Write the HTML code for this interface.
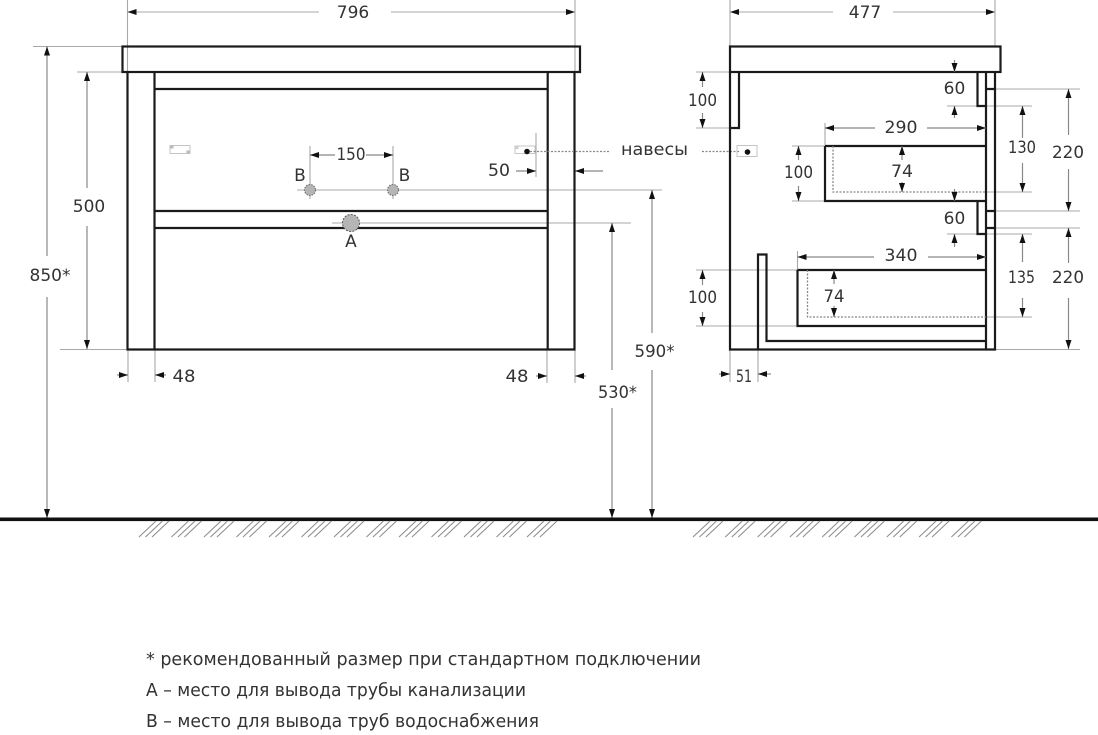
<!DOCTYPE html>
<html><head><meta charset="utf-8"><style>
html,body{margin:0;padding:0;background:#fff}
svg{display:block}
text{font-family:"DejaVu Sans","Liberation Sans",sans-serif;font-size:17px;fill:#333;text-anchor:middle}
.l{font-size:18px;text-anchor:start}
.o{fill:none;stroke:#1a1a1a;stroke-width:2.2}
.d{fill:none;stroke:#a8a8a8;stroke-width:1.1}
.k{fill:none;stroke:#888;stroke-width:1.2}
.p{fill:none;stroke:#888;stroke-width:1.3;stroke-dasharray:2 1.5}
.h{fill:none;stroke:#8a8a8a;stroke-width:1}
</style></head><body>
<svg width="1098" height="735" viewBox="0 0 1098 735" xmlns="http://www.w3.org/2000/svg">
<defs>
<marker id="a" markerUnits="userSpaceOnUse" markerWidth="9" markerHeight="7" refX="9" refY="3.5" orient="auto-start-reverse"><path d="M0 .5L9 3.5L0 6.5z" fill="#111"/></marker>
<g id="h"><path class="h" d="M0 537L17 521M6.5 537L23.5 521M13 537L30 521"/></g>
</defs>

<!-- extension lines, front -->
<path class="d" d="M127.5 0V72M575 0V72M33 46.5H122M77 72H122M60 349.5H127M128 350V382M155 350V382M547 350V383M575 350V383"/>
<path class="d" d="M310 146V199M393 146V199M297 190H662M332 223H631M536 133V177"/>
<!-- dimensions, front -->
<path class="d" d="M319 12H127.5" marker-end="url(#a)"/>
<path class="d" d="M391 12H575" marker-end="url(#a)"/>
<path class="k" d="M47 256V46.5" marker-end="url(#a)"/>
<path class="k" d="M47 297V518" marker-end="url(#a)"/>
<path class="k" d="M87 188V72" marker-end="url(#a)"/>
<path class="k" d="M87 226V349" marker-end="url(#a)"/>
<path class="k" d="M335 155H310" marker-end="url(#a)"/>
<path class="k" d="M366 155H393" marker-end="url(#a)"/>
<path class="k" d="M516 171H536" marker-end="url(#a)"/>
<path class="k" d="M603 171H575" marker-end="url(#a)"/>
<path class="k" d="M652 333V190" marker-end="url(#a)"/>
<path class="k" d="M652 370V518" marker-end="url(#a)"/>
<path class="k" d="M612 370V223" marker-end="url(#a)"/>
<path class="k" d="M612 408V518" marker-end="url(#a)"/>
<path class="k" d="M117 375H128" marker-end="url(#a)"/>
<path class="k" d="M166 375H155" marker-end="url(#a)"/>
<path class="k" d="M536 376H547" marker-end="url(#a)"/>
<path class="k" d="M586 376H575" marker-end="url(#a)"/>

<!-- front view -->
<rect class="o" x="122.5" y="46.5" width="457.5" height="25.5"/>
<path class="o" d="M127.5 72V349.5H574.5V72M154.5 72V349.5M547.7 72V349.5M154.5 89H547.7M154.5 211H547.7M154.5 228H547.7"/>
<!-- holes -->
<circle cx="310" cy="190" r="5.5" fill="#b5b5b5" stroke="#666" stroke-dasharray="1.5 1.2"/>
<circle cx="393" cy="190" r="5.5" fill="#b5b5b5" stroke="#666" stroke-dasharray="1.5 1.2"/>
<circle cx="351" cy="223" r="8.5" fill="#b5b5b5" stroke="#555" stroke-dasharray="2 1.3"/>
<!-- hinges -->
<rect x="170" y="145.5" width="20" height="8" fill="none" stroke="#c4c4c4"/>
<rect x="170" y="145.5" width="3.5" height="3" fill="#bbb"/><rect x="186.5" y="150.5" width="3.5" height="3" fill="#bbb"/>
<rect x="515" y="146" width="20" height="7.5" fill="none" stroke="#c8c8c8"/>
<rect x="515" y="146" width="3.5" height="3" fill="#ccc"/>
<circle cx="527" cy="151.5" r="2.8" fill="#111"/>
<path class="p" d="M530 151.5H609M702 151.5H740"/>
<rect x="737" y="145.5" width="20" height="11" fill="none" stroke="#c4c4c4"/>
<circle cx="747.5" cy="152" r="2.8" fill="#111"/>

<!-- side extension lines -->
<path class="d" d="M730 0V46M995 0V46M696 72H730M696 128H730M995 89H1080M995 211H1080M995 228H1080M995 349.5H1080M947 106H1032M947 234H1032M792 146H825M792 201H825M696 270H797.5M696 326H797.5M825 123V145M797.5 251V270M986 192H1032M986 317H1032M730 350V382M758 350V382"/>
<!-- side view -->
<rect class="o" x="730" y="46.5" width="270.5" height="25.5"/>
<path class="o" d="M730 72V349.5H995V72M730 128H739V72M986 72V349.5M986 89H995M986 211H995M986 228H995"/>
<path class="o" d="M977.5 72V106H986M977.5 201V234H986"/>
<path class="o" d="M825 146H986M825 146V201H986M797.5 270H986M797.5 270V326H986"/>
<path class="o" d="M758 349.5V254.5H766.5V341H986"/>
<path class="p" d="M833 146V192H986M807.5 270V317H986"/>
<!-- side dims -->
<path class="d" d="M833 12H730" marker-end="url(#a)"/>
<path class="d" d="M893 12H995" marker-end="url(#a)"/>
<path class="k" d="M954.5 60V72" marker-end="url(#a)"/>
<path class="k" d="M954.5 118V106" marker-end="url(#a)"/>
<path class="k" d="M954.5 189V201" marker-end="url(#a)"/>
<path class="k" d="M954.5 247V234" marker-end="url(#a)"/>
<path class="k" d="M702.5 87V72" marker-end="url(#a)"/>
<path class="k" d="M702.5 113V128" marker-end="url(#a)"/>
<path class="k" d="M875 128H825" marker-end="url(#a)"/>
<path class="k" d="M927 128H986" marker-end="url(#a)"/>
<path class="k" d="M1022.5 138V106" marker-end="url(#a)"/>
<path class="k" d="M1022.5 163V192" marker-end="url(#a)"/>
<path class="k" d="M1068.5 135V89" marker-end="url(#a)"/>
<path class="k" d="M1068.5 169V211" marker-end="url(#a)"/>
<path class="k" d="M1068.5 263V228" marker-end="url(#a)"/>
<path class="k" d="M1068.5 298V349" marker-end="url(#a)"/>
<path class="k" d="M798.5 160V146" marker-end="url(#a)"/>
<path class="k" d="M798.5 186V201" marker-end="url(#a)"/>
<path class="k" d="M902 160V146" marker-end="url(#a)"/>
<path class="k" d="M902 182V192" marker-end="url(#a)"/>
<path class="k" d="M874 257H797.5" marker-end="url(#a)"/>
<path class="k" d="M928 257H986" marker-end="url(#a)"/>
<path class="k" d="M1022.5 262V234" marker-end="url(#a)"/>
<path class="k" d="M1022.5 298V317" marker-end="url(#a)"/>
<path class="k" d="M702.5 285V270" marker-end="url(#a)"/>
<path class="k" d="M702.5 312V326" marker-end="url(#a)"/>
<path class="k" d="M834 284V270" marker-end="url(#a)"/>
<path class="k" d="M834 306V317" marker-end="url(#a)"/>
<path class="k" d="M719 374H730" marker-end="url(#a)"/>
<path class="k" d="M771 374H758" marker-end="url(#a)"/>

<!-- ground -->
<rect x="0" y="517.5" width="1098" height="3.6" fill="#111"/>
<use href="#h" x="139"/><use href="#h" x="171.5"/><use href="#h" x="204"/><use href="#h" x="236.5"/><use href="#h" x="269"/><use href="#h" x="301.5"/><use href="#h" x="334"/><use href="#h" x="366.5"/><use href="#h" x="399"/><use href="#h" x="431.5"/><use href="#h" x="464"/><use href="#h" x="496.5"/><use href="#h" x="527"/>
<use href="#h" x="693"/><use href="#h" x="725.3"/><use href="#h" x="757.6"/><use href="#h" x="789.9"/><use href="#h" x="822.2"/><use href="#h" x="854.5"/><use href="#h" x="886.8"/><use href="#h" x="919.1"/><use href="#h" x="951.4"/>

<!-- labels -->
<text x="353" y="18">796</text>
<text x="865" y="18">477</text>
<text x="50" y="281" textLength="41" lengthAdjust="spacingAndGlyphs">850*</text>
<text x="89" y="212">500</text>
<text x="351" y="160" textLength="29" lengthAdjust="spacingAndGlyphs">150</text>
<text x="300" y="181">B</text>
<text x="404.5" y="181">B</text>
<text x="351" y="247">A</text>
<text x="499" y="176" textLength="22" lengthAdjust="spacingAndGlyphs">50</text>
<text x="654.5" y="357" textLength="40" lengthAdjust="spacingAndGlyphs">590*</text>
<text x="617.5" y="398" textLength="39" lengthAdjust="spacingAndGlyphs">530*</text>
<text x="184" y="382" textLength="23" lengthAdjust="spacingAndGlyphs">48</text>
<text x="517" y="382" textLength="23" lengthAdjust="spacingAndGlyphs">48</text>
<text x="654.5" y="155" textLength="67" lengthAdjust="spacingAndGlyphs">навесы</text>
<text x="702.5" y="106" textLength="29" lengthAdjust="spacingAndGlyphs">100</text>
<text x="954.5" y="94">60</text>
<text x="901" y="133" textLength="33" lengthAdjust="spacingAndGlyphs">290</text>
<text x="1022" y="153" textLength="28" lengthAdjust="spacingAndGlyphs">130</text>
<text x="1068" y="158" textLength="32" lengthAdjust="spacingAndGlyphs">220</text>
<text x="798.5" y="178" textLength="29" lengthAdjust="spacingAndGlyphs">100</text>
<text x="902" y="177" textLength="22" lengthAdjust="spacingAndGlyphs">74</text>
<text x="954.5" y="224">60</text>
<text x="901" y="261" textLength="33" lengthAdjust="spacingAndGlyphs">340</text>
<text x="1021.5" y="283" textLength="27" lengthAdjust="spacingAndGlyphs">135</text>
<text x="1068" y="283" textLength="32" lengthAdjust="spacingAndGlyphs">220</text>
<text x="702.5" y="303" textLength="29" lengthAdjust="spacingAndGlyphs">100</text>
<text x="834" y="302" textLength="21" lengthAdjust="spacingAndGlyphs">74</text>
<text x="744" y="382" textLength="16" lengthAdjust="spacingAndGlyphs">51</text>

<text class="l" x="146" y="665" textLength="555" lengthAdjust="spacingAndGlyphs">* рекомендованный размер при стандартном подключении</text>
<text class="l" x="146" y="696" textLength="380" lengthAdjust="spacingAndGlyphs">А – место для вывода трубы канализации</text>
<text class="l" x="146" y="727" textLength="393" lengthAdjust="spacingAndGlyphs">В – место для вывода труб водоснабжения</text>
</svg>
</body></html>
